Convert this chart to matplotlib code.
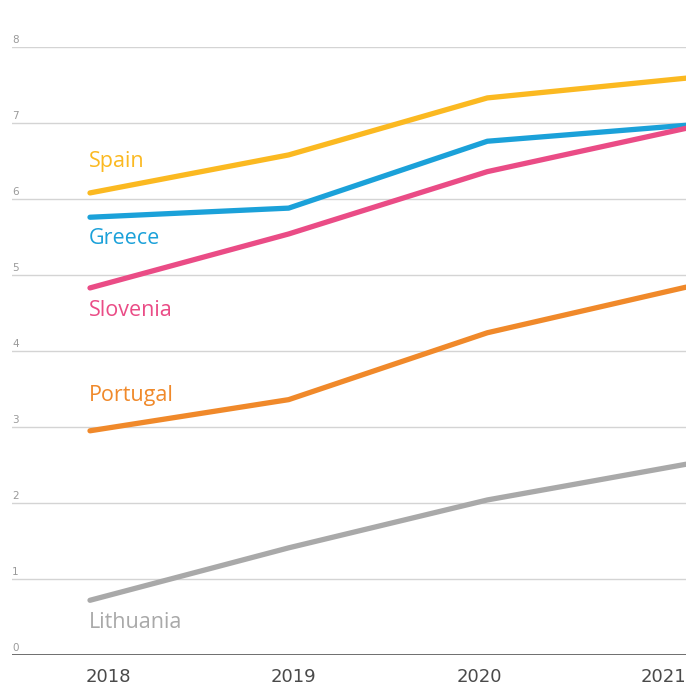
import matplotlib.pyplot as plt
import matplotlib.transforms as mtransforms

years = [2018, 2019, 2020, 2021]
countries = ['Spain', 'Greece', 'Slovenia', 'Portugal', 'Lithuania']
spain = [6.08, 6.58, 7.33, 7.59]
greece = [5.76, 5.88, 6.76, 6.97]
slovenia = [4.83, 5.54, 6.36, 6.93]
portugal = [2.95, 3.36, 4.24, 4.84]
lithuania = [0.72, 1.41, 2.04, 2.51]
y_ticks = [0, 1, 2, 3, 4, 5, 6, 7, 8]

series = [spain, greece, slovenia, portugal, lithuania]
colors = ['#FBB921', '#1BA1D9', '#EA4C86', '#F0892A', '#A9A9A9']
# where the name sits (y in data units)
label_y = [6.5, 5.48, 4.53, 3.42, 0.43]

fig = plt.figure(figsize=(6.86, 6.86), dpi=100)
ax = fig.add_axes([12 / 686, 31 / 686, 674 / 686, 608 / 686])

for vals, c in zip(series, colors):
    ax.plot(years, vals, color=c, linewidth=3.8, solid_capstyle='round', clip_on=False, zorder=3)

for name, c, ly in zip(countries, colors, label_y):
    ax.text(2018 - 0.005, ly, name, color=c, fontsize=15.5, va='center', ha='left',
            family='Open Sans')

ax.set_xlim(2018 - 78 / 198.7, 2021)
ax.set_ylim(0, 8)

for t in y_ticks:
    if t > 0:
        ax.axhline(t, color='#d4d4d4', linewidth=1.0, zorder=1)
    ax.text(0.0, t + 0.02, str(t), transform=ax.get_yaxis_transform(), fontsize=7.5,
            color='#9a9a9a', va='bottom', ha='left')
ax.axhline(0, color='#555555', linewidth=1.2, zorder=2)

ax.set_yticks([])
ax.set_xticks(years)
ax.set_xticklabels([str(y) for y in years], fontsize=13, color='#4a4a4a')
ax.tick_params(axis='x', length=0, pad=9)
labels = ax.get_xticklabels()
labels[0].set_ha('left')
labels[-1].set_ha('right')
# year labels are spread a little differently from the points
shifts = [-4, 5, -8, 0]
for lab, dx in zip(labels, shifts):
    lab.set_transform(lab.get_transform() + mtransforms.ScaledTranslation(dx / 100, 0, fig.dpi_scale_trans))
for s in ax.spines.values():
    s.set_visible(False)

fig.savefig('out.png', dpi=100)
